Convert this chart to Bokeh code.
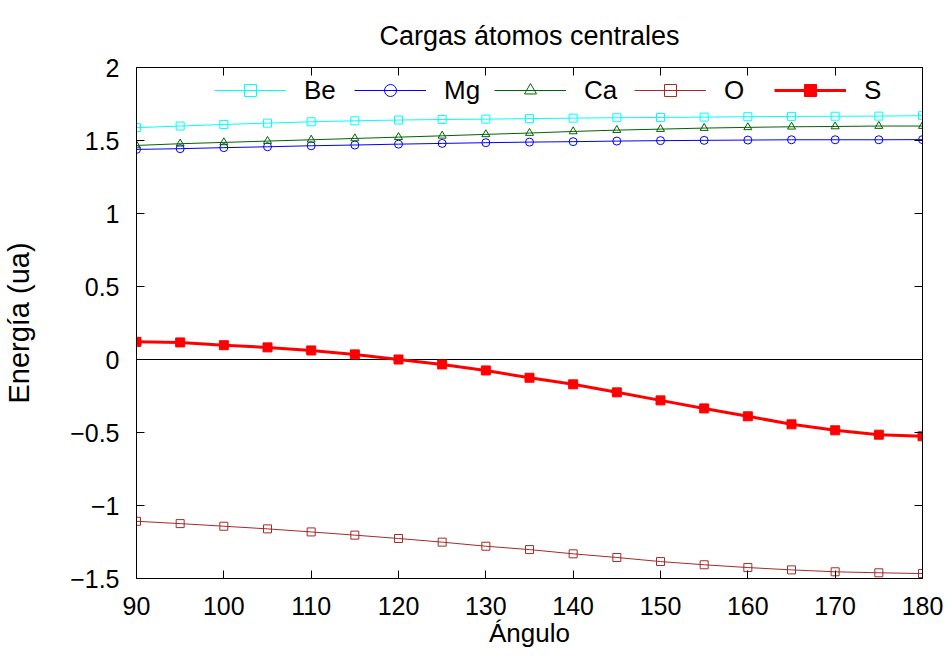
from bokeh.plotting import figure
from bokeh.models import (Range1d, LinearAxis, FixedTicker, Span, Legend,
                          LegendItem, CustomJSTickFormatter)
from bokeh.embed import file_html
from bokeh.resources import INLINE

angles = [90, 95, 100, 105, 110, 115, 120, 125, 130, 135,
          140, 145, 150, 155, 160, 165, 170, 175, 180]
be = [1.588, 1.599, 1.610, 1.619, 1.628, 1.635, 1.640, 1.644, 1.646, 1.650,
      1.653, 1.656, 1.658, 1.660, 1.663, 1.665, 1.666, 1.667, 1.670]
mg = [1.439, 1.444, 1.451, 1.457, 1.464, 1.469, 1.475, 1.480, 1.485, 1.489,
      1.492, 1.496, 1.499, 1.501, 1.503, 1.505, 1.505, 1.505, 1.506]
ca = [1.466, 1.478, 1.487, 1.496, 1.505, 1.514, 1.523, 1.532, 1.542, 1.551,
      1.562, 1.571, 1.578, 1.585, 1.590, 1.594, 1.596, 1.599, 1.599]
o = [-1.108, -1.124, -1.142, -1.160, -1.181, -1.203, -1.226, -1.251, -1.279, -1.302,
     -1.331, -1.356, -1.384, -1.406, -1.425, -1.441, -1.454, -1.461, -1.466]
s = [0.121, 0.117, 0.098, 0.083, 0.062, 0.035, 0.000, -0.034, -0.075, -0.125,
     -0.170, -0.225, -0.280, -0.335, -0.389, -0.444, -0.485, -0.515, -0.526]

x_ticks = [90, 100, 110, 120, 130, 140, 150, 160, 170, 180]
y_ticks = [-1.5, -1.0, -0.5, 0.0, 0.5, 1.0, 1.5, 2.0]

FONT = "Liberation Sans"
FS = "25px"

p = figure(width=944, height=653, x_range=Range1d(90, 180), y_range=Range1d(-1.5, 2),
           output_backend="svg", toolbar_location=None,
           min_border_left=134, min_border_top=67, min_border_right=22, min_border_bottom=75,
           title="Cargas átomos centrales",
           x_axis_label="Ángulo", y_axis_label="Energía (ua)")

p.title.align = "center"
p.title.text_font = FONT
p.title.text_font_size = "27px"
p.title.text_font_style = "normal"
p.title.text_color = "black"
p.title.standoff = 34

p.xgrid.visible = False
p.ygrid.visible = False
p.outline_line_color = "black"
p.outline_line_width = 1
p.background_fill_color = "white"
p.border_fill_color = "white"

fmt = CustomJSTickFormatter(code="""
    if (tick < 0) { return "\\u2212" + String(Math.abs(tick)); }
    return String(tick);
""")

def style_axis(ax, labels=True):
    ax.major_tick_in = 8
    ax.major_tick_out = 0
    ax.minor_tick_in = 0
    ax.minor_tick_out = 0
    ax.axis_line_color = "black"
    ax.major_tick_line_color = "black"
    ax.major_label_text_font = FONT
    if labels:
        ax.major_label_text_font_size = FS
        ax.major_label_text_color = "black"
    else:
        ax.major_label_text_font_size = "1px"
        ax.major_label_text_color = None
        ax.major_label_standoff = 0
    ax.axis_label_text_font = FONT
    ax.axis_label_text_font_style = "normal"
    ax.axis_label_text_color = "black"

xa = p.xaxis[0]
xa.ticker = FixedTicker(ticks=x_ticks)
style_axis(xa)
xa.axis_label_text_font_size = "26px"
xa.major_label_standoff = 18
xa.axis_label_standoff = 0

ya = p.yaxis[0]
ya.ticker = FixedTicker(ticks=y_ticks)
ya.formatter = fmt
style_axis(ya)
ya.axis_label_text_font_size = "29px"
ya.major_label_standoff = 17
ya.axis_label_standoff = 32

top = LinearAxis(ticker=FixedTicker(ticks=x_ticks))
style_axis(top, labels=False)
p.add_layout(top, "above")

right = LinearAxis(ticker=FixedTicker(ticks=y_ticks))
style_axis(right, labels=False)
p.add_layout(right, "right")

p.add_layout(Span(location=0, dimension="width", line_color="black",
                  line_width=1, level="underlay"))

series = [
    ("Be", be, "#00ffff", "square", 8, 1, False),
    ("Mg", mg, "#0000ff", "circle", 8, 1, False),
    ("Ca", ca, "#006400", "triangle", 8, 1, False),
    ("O", o, "#a52a2a", "square", 8, 1, False),
    ("S", s, "#ff0000", "square", 9, 3, True),
]

items = []
for name, vals, color, marker, size, lw, filled in series:
    ln = p.line(angles, vals, line_color=color, line_width=lw)
    sc = p.scatter(angles, vals, marker=marker, size=size, line_color=color,
                   line_width=1,
                   fill_color=color if filled else None)
    items.append(LegendItem(label=name, renderers=[ln, sc]))

legend = Legend(items=items, orientation="horizontal", location=(78, 472.5),
                glyph_width=72, glyph_height=30, label_height=30,
                label_standoff=18, label_width=50, spacing=0, padding=0,
                margin=0, border_line_color=None, background_fill_alpha=0,
                label_text_font=FONT, label_text_font_size="26px",
                label_text_color="black")
p.add_layout(legend)

open("out.html", "w").write(file_html(p, INLINE))
